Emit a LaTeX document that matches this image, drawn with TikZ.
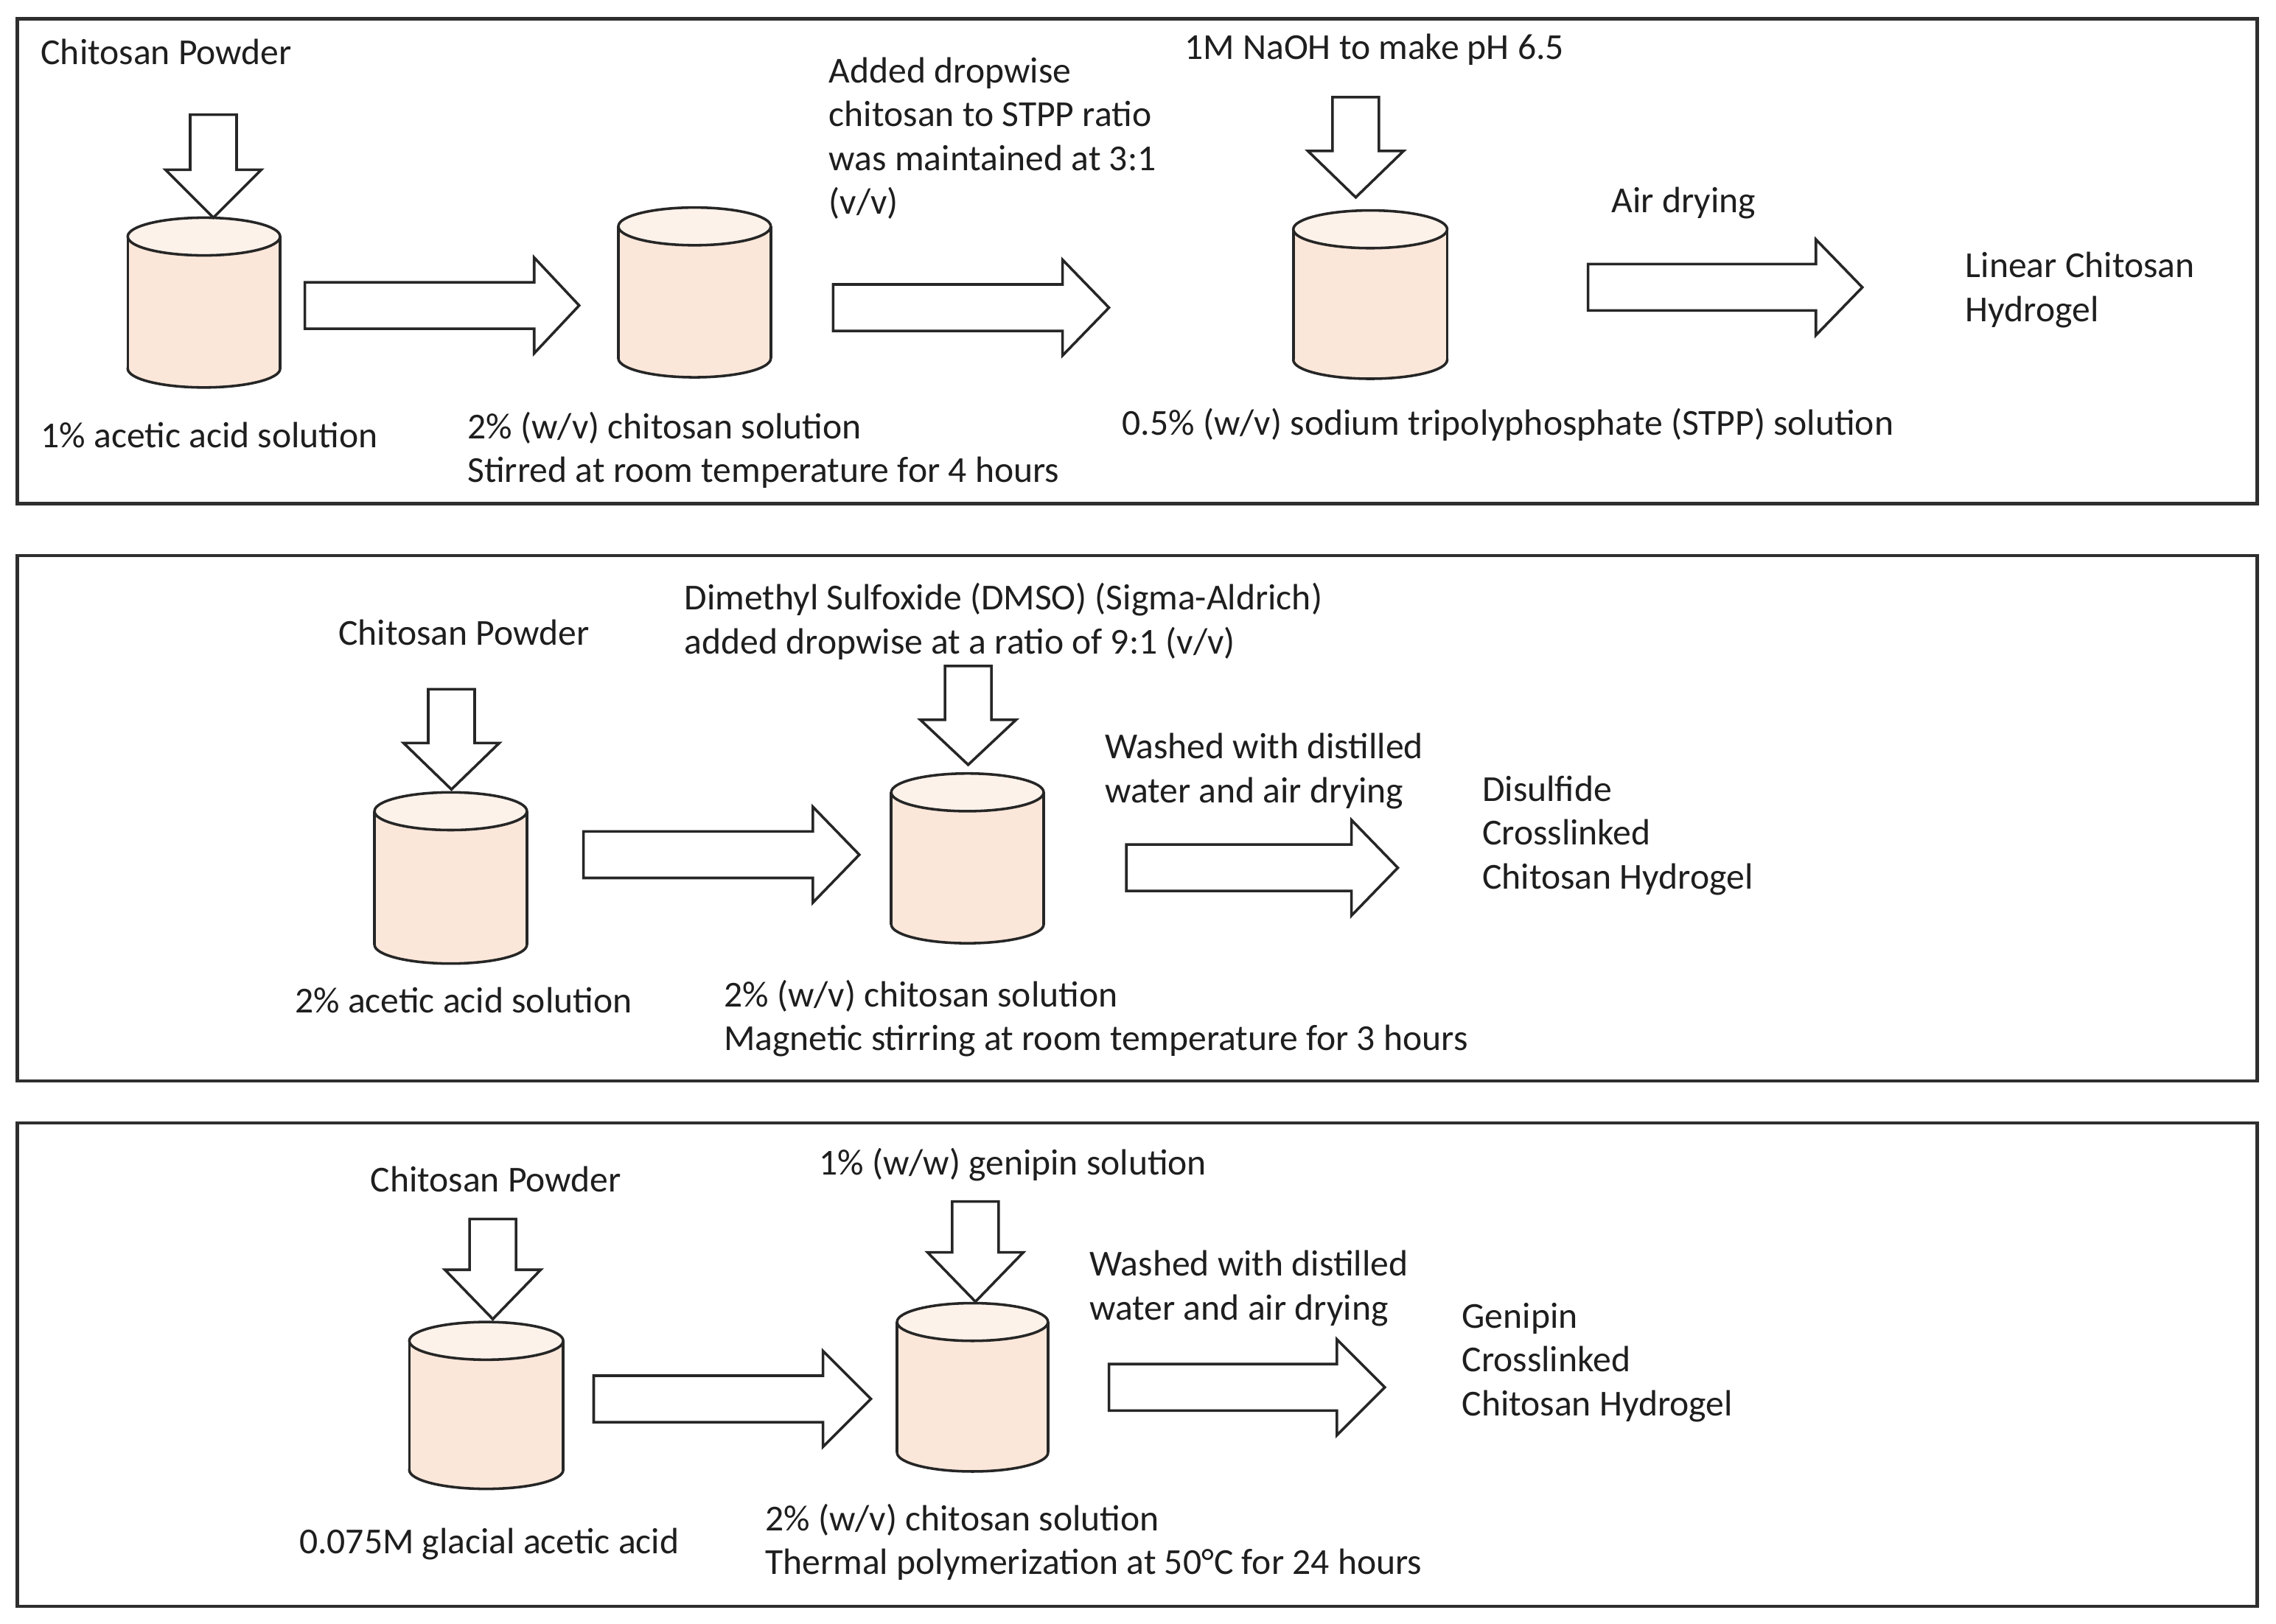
\documentclass[tikz,border=0pt]{standalone}
\usepackage{fontspec}
\setmainfont{Carlito}
\definecolor{linec}{HTML}{262626}
\definecolor{boxc}{HTML}{2E2E2E}
\definecolor{txtc}{HTML}{1E1E1E}
\definecolor{cylb}{HTML}{FBE7DA}
\definecolor{cylt}{HTML}{FDF2EA}
\tikzset{
  blk/.style={draw=linec, fill=white, line width=1.8pt, line join=miter},
  cylline/.style={draw=linec, line width=1.8pt},
  panel/.style={draw=boxc, line width=2.2pt},
  txt/.style={anchor=base west, inner sep=0pt, align=left, text=txtc,
    font=\fontsize{25.2}{30.2}\selectfont},
}
\newcommand\drawcyl[5]{%
  \pgfmathsetmacro\cylcx{(#2+#3)/2}%
  \pgfmathsetmacro\cylrx{(#3-#2)/2}%
  \filldraw[cylline, fill=cylb] (\cylcx,#5-13) ellipse [x radius=\cylrx, y radius=13];
  \fill[cylb] (#2,#4+13) rectangle (#3,#5-13);
  \draw[cylline] (#2,#4+13) -- (#2,#5-13) (#3,#4+13) -- (#3,#5-13);
  \filldraw[cylline, fill=cylt] (\cylcx,#4+13) ellipse [x radius=\cylrx, y radius=13];
  \coordinate (#1) at (\cylcx,{(#4+#5)/2});
}
\newcommand\rarrow[4]{%
  \draw[blk] (#1,#4-16) -- (#2,#4-16) -- (#2,#4-33) -- (#3,#4) -- (#2,#4+33) -- (#2,#4+16) -- (#1,#4+16) -- cycle;
}
\newcommand\darrow[4]{%
  \draw[blk] (#1-16,#2) -- (#1+16,#2) -- (#1+16,#3) -- (#1+33,#3) -- (#1,#4) -- (#1-33,#3) -- (#1-16,#3) -- cycle;
}
\begin{document}
\begin{tikzpicture}[x=1pt,y=-1pt]
\useasboundingbox[fill=white] (0,0) rectangle (1568,1119.1);
% panels
\draw[panel] (12,13) rectangle (1555,347);
\draw[panel] (12,383) rectangle (1555,745);
\draw[panel] (12,774) rectangle (1555,1107);

% ---------- panel 1
\drawcyl{c11}{88}{193}{150}{267}
\drawcyl{c12}{426}{531}{143}{260}
\drawcyl{c13}{891}{997}{145}{261}
\darrow{147}{79}{117}{150}
\darrow{934}{67}{104}{136}
\rarrow{210}{368}{399}{210.5}
\rarrow{574}{732}{764}{212}
\rarrow{1094}{1251}{1283}{198}
\node[txt] (t11) at (28,44.5) {Chitosan Powder};
\node[txt] (t12) at (571,147.5) {Added dropwise\\chitosan to STPP ratio\\was maintained at 3:1\\(v/v)};
\node[txt] (t13) at (816,41) {1M NaOH to make pH 6.5};
\node[txt] (t14) at (1110,146.5) {Air drying};
\node[txt] (t15) at (1354,221.5) {Linear Chitosan\\Hydrogel};
\node[txt] (t16) at (28,308.5) {1\% acetic acid solution};
\node[txt] (t17) at (322,332.5) {2\% (w/v) chitosan solution\\Stirred at room temperature for 4 hours};
\node[txt] (t18) at (773,300) {0.5\% (w/v) sodium tripolyphosphate (STPP) solution};

% ---------- panel 2
\drawcyl{c21}{258}{363}{546}{664}
\drawcyl{c22}{614}{719}{533}{650}
\darrow{311}{475}{512}{544}
\darrow{667}{459}{496}{527}
\rarrow{402}{560}{592}{589}
\rarrow{776}{931}{963}{598}
\node[txt] (t21) at (233,444.5) {Chitosan Powder};
\node[txt] (t22) at (471.5,450.5) {Dimethyl Sulfoxide (DMSO) (Sigma-Aldrich)\\added dropwise at a ratio of 9:1 (v/v)};
\node[txt] (t23) at (761,553) {Washed with distilled\\water and air drying};
\node[txt] (t24) at (1021,612.5) {Disulfide\\Crosslinked\\Chitosan Hydrogel};
\node[txt] (t25) at (203,698) {2\% acetic acid solution};
\node[txt] (t26) at (498.5,724) {2\% (w/v) chitosan solution\\Magnetic stirring at room temperature for 3 hours};

% ---------- panel 3
\drawcyl{c31}{282}{388}{911}{1026}
\drawcyl{c32}{618}{722}{898}{1014}
\darrow{339.5}{840}{875}{909}
\darrow{672}{828}{863}{897}
\rarrow{409}{567}{600}{964}
\rarrow{764}{921}{954}{956}
\node[txt] (t31) at (255,821.5) {Chitosan Powder};
\node[txt] (t32) at (564,809.5) {1\% (w/w) genipin solution};
\node[txt] (t33) at (750.5,909.5) {Washed with distilled\\water and air drying};
\node[txt] (t34) at (1007,975.5) {Genipin\\Crosslinked\\Chitosan Hydrogel};
\node[txt] (t35) at (206,1070.5) {0.075M glacial acetic acid};
\node[txt] (t36) at (527,1085) {2\% (w/v) chitosan solution\\Thermal polymerization at 50°C for 24 hours};
\end{tikzpicture}
\end{document}
